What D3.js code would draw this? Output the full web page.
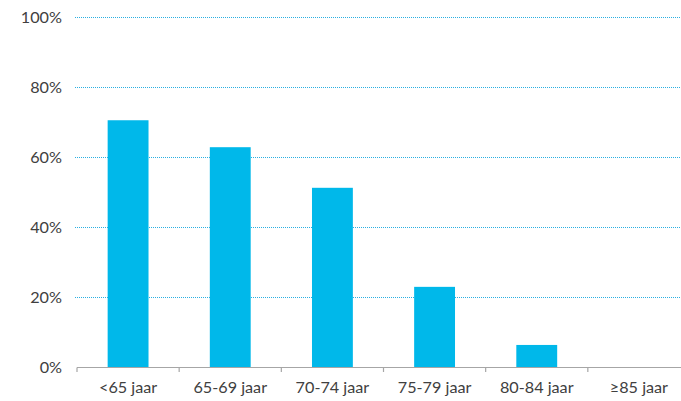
<!DOCTYPE html>
<html><head><meta charset="utf-8">
<script src="https://cdn.jsdelivr.net/npm/d3@7"></script>
<style>body{margin:0;background:#fff}svg{display:block}text{font-family:Lato,"Open Sans",sans-serif}</style>
</head><body><svg id="c" width="681" height="401"></svg>
<script>
const categories = ["<65 jaar","65-69 jaar","70-74 jaar","75-79 jaar","80-84 jaar","≥85 jaar"];
const values = [70.5, 62.8, 51.2, 22.9, 6.3, 0];
const yTicks = [0, 20, 40, 60, 80, 100];

const svg = d3.select("#c");
const x = d3.scaleBand().domain(categories).range([77, 690]).paddingInner(0.6).paddingOuter(0.3);
const y = d3.scaleLinear().domain([0, 100]).range([367, 17]);

// gridlines: dotted light blue
const grid = svg.append("g");
grid.selectAll("line").data(yTicks.filter(d => d > 0)).join("line")
  .attr("x1", 75).attr("x2", 681)
  .attr("y1", d => y(d) + 0.5).attr("y2", d => y(d) + 0.5)
  .style("stroke", "#2aafe2").style("stroke-width", "1px").style("stroke-dasharray", "1,1");

// bars
svg.append("g").selectAll("rect").data(values).join("rect")
  .attr("x", (d, i) => x(categories[i]))
  .attr("y", d => y(d))
  .attr("width", x.bandwidth())
  .attr("height", d => y(0) - y(d))
  .attr("fill", "#00b8ea");

// y axis labels
const ya = svg.append("g").attr("transform", "translate(62,0)")
  .call(d3.axisLeft(y).tickValues(yTicks).tickSize(0).tickPadding(0).tickFormat(d => d + "%"));
ya.select(".domain").remove();
ya.selectAll("text").attr("font-size", 16.2).attr("fill", "#404040").attr("font-family", "Lato, sans-serif");

// x axis
const xa = svg.append("g").attr("transform", "translate(0,367.5)")
  .call(d3.axisBottom(x).tickSizeOuter(0).tickSize(0).tickPadding(14));
xa.select(".domain").attr("stroke", "#a6a6a6").attr("stroke-width", 1.2).attr("d", "M77,0H681");
xa.selectAll("text").attr("font-size", 16.2).attr("fill", "#404040").attr("font-family", "Lato, sans-serif");
// boundary tick marks
const bounds = categories.map(c => x(c) - x.step() * x.paddingInner() / 2);
svg.append("g").selectAll("line").data(bounds).join("line")
  .attr("x1", d => d).attr("x2", d => d)
  .attr("y1", 367.5).attr("y2", 372)
  .attr("stroke", "#a6a6a6").attr("stroke-width", 1.2);
</script></body></html>
